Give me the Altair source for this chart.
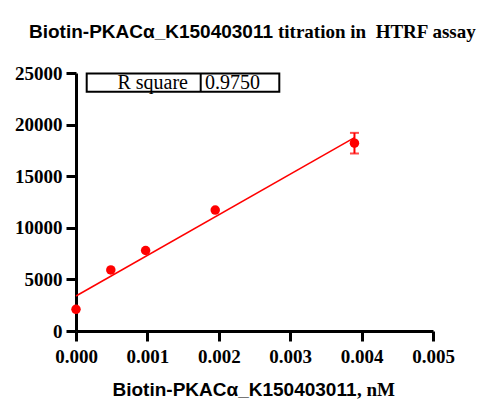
import altair as alt
import pandas as pd

# ---- data ----
conc_nM = [0.0, 0.0004875, 0.000975, 0.00195, 0.0039]
signal = [2100, 5920, 7800, 11720, 18200]
err = [0, 0, 0, 0, 1000]

x_ticks = [0.0, 0.001, 0.002, 0.003, 0.004, 0.005]
y_ticks = [0, 5000, 10000, 15000, 20000, 25000]

title_sans = "Biotin-PKACα_K150403011"
title_serif = "titration in \u00a0HTRF assay"
xtitle_sans = "Biotin-PKACα_K150403011"
xtitle_serif = ", nM"
r2_label = "R square"
r2_value = "0.9750"

df = pd.DataFrame({"conc": conc_nM, "signal": signal, "err": err})
df["lo"] = df["signal"] - df["err"]
df["hi"] = df["signal"] + df["err"]
err_df = df[df["err"] > 0]

SANS = "Liberation Sans"
SERIF = "Liberation Serif"
RED = "#ff0000"

x_enc = alt.X("conc:Q",
              scale=alt.Scale(domain=[0, 0.005], nice=False, zero=False),
              axis=alt.Axis(values=x_ticks, format=".3f", title=None,
                            labelFlush=False, labelOverlap=False))
y_enc = alt.Y("signal:Q",
              scale=alt.Scale(domain=[0, 25000], nice=False),
              axis=alt.Axis(values=y_ticks, format="d", title=None,
                            labelFlush=False, labelOverlap=False))

base = alt.Chart(df)

fit = base.transform_regression("conc", "signal").mark_line(
    color=RED, strokeWidth=1.5
).encode(x=x_enc, y=y_enc)

pts = base.mark_circle(color=RED, size=90, opacity=1).encode(x=x_enc, y=y_enc)

ebase = alt.Chart(err_df)
erule = ebase.mark_rule(color=RED, strokeWidth=2).encode(
    x="conc:Q", y="lo:Q", y2="hi:Q")
ecap_lo = ebase.mark_tick(color=RED, orient="horizontal", size=9, thickness=2).encode(
    x="conc:Q", y="lo:Q")
ecap_hi = ebase.mark_tick(color=RED, orient="horizontal", size=9, thickness=2).encode(
    x="conc:Q", y="hi:Q")


def label(txt, x, y, font, size, align, weight="bold"):
    return alt.Chart(pd.DataFrame({"t": [txt]})).mark_text(
        font=font, fontSize=size, fontWeight=weight, align=align,
        baseline="alphabetic", color="black"
    ).encode(x=alt.value(x), y=alt.value(y), text="t:N")


t1 = label(title_sans, 197, -35, SANS, 19, "right")
t2 = label(title_serif, 202, -35, SERIF, 19, "left")
xt1 = label(xtitle_sans, 280.5, 323, SANS, 19, "right")
xt2 = label(xtitle_serif, 281, 323, SERIF, 19, "left")

one = pd.DataFrame({"k": [0]})
box = alt.Chart(one).mark_rect(fill="white", stroke="black", strokeWidth=2).encode(
    x=alt.value(10.7), x2=alt.value(203.3), y=alt.value(0.5), y2=alt.value(18.7))
div = alt.Chart(one).mark_rule(color="black", strokeWidth=2).encode(
    x=alt.value(124.7), y=alt.value(0.5), y2=alt.value(18.7))
r2a = label(r2_label, 112, 16, SERIF, 20, "right", "normal")
r2b = label(r2_value, 129, 16, SERIF, 20, "left", "normal")

chart = alt.layer(
    fit, erule, ecap_lo, ecap_hi, pts, box, div, r2a, r2b, t1, t2, xt1, xt2
).properties(
    width=357, height=258,
    autosize=alt.AutoSizeParams(type="none"),
    padding={"left": 68, "top": 65, "right": 59, "bottom": 81},
    background="white",
).configure_view(stroke=None).configure_axis(
    grid=False,
    domainColor="black", domainWidth=3,
    tickColor="black", tickWidth=3, tickSize=10,
    labelFont=SERIF, labelFontWeight="bold", labelFontSize=19,
    labelColor="black", labelFlush=False,
).configure_axisX(labelPadding=6).configure_axisY(labelPadding=4)

chart.save("out.html", embed_options={"renderer": "svg", "actions": False})
